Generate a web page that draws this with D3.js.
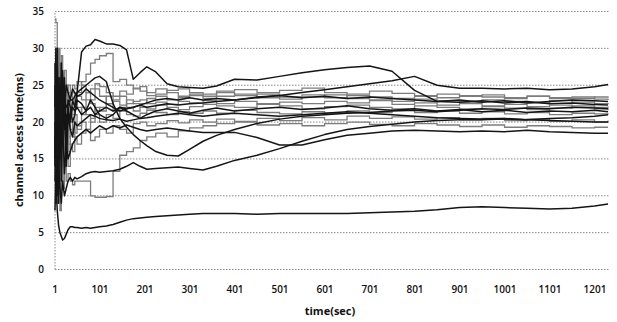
<!DOCTYPE html>
<html>
<head>
<meta charset="utf-8">
<script src="https://cdn.jsdelivr.net/npm/d3@7"></script>
<style>
  body { margin: 0; background: #fff; }
  svg { display: block; font-family: "Open Sans", "Liberation Sans", sans-serif; }
  .grid line { stroke: #8a8a8a; stroke-dasharray: 1.5,1.5; }
  .tick-label { font-size: 10px; font-weight: 600; fill: #111; }
  .title { font-size: 11px; font-weight: 700; fill: #111; }
  .line { fill: none; }
</style>
</head>
<body>
<svg id="chart" width="617" height="322"></svg>
<script>
// sample times (sec)
const times = [1,3,6,9,12,15,18,22,26,30,35,40,45,50,60,70,80,90,100,115,
  130,145,160,175,190,205,225,250,275,300,330,360,400,450,500,550,600,650,700,750,
  800,850,900,950,1000,1050,1100,1150,1200,1230];

const xTicks = [1,101,201,301,401,501,601,701,801,901,1001,1101,1201];
const yTicks = [0,5,10,15,20,25,30,35];

// black series
const black1 = [20,12,8,6,5,4.5,4.0,4.2,4.8,5.4,
  5.8,5.8,5.7,5.7,5.6,5.7,5.6,5.7,5.8,5.9,
  6.1,6.4,6.7,6.9,7.0,7.1,7.2,7.3,7.4,7.5,
  7.6,7.6,7.6,7.5,7.6,7.6,7.6,7.6,7.7,7.8,
  7.9,8.1,8.4,8.5,8.4,8.3,8.2,8.3,8.6,8.9];
const black2 = [12,18,24,20,22,23,21,23,22,22.5,
  23,23,23.5,24,29.5,30.3,30.5,31.2,31.0,30.6,
  30.6,30.4,29.8,25.8,26.7,27.5,26.8,25.2,24.8,24.7,
  24.6,24.9,25.8,25.7,26.2,26.7,27.1,27.4,27.6,26.9,
  24.3,22.8,22.7,22.9,22.6,22.8,22.5,22.6,22.4,22.3];
const black3 = [15,25,18,22,17,20,24,19,21,20,
  21,22,21.5,22,21,21.5,22,21,21.5,22,
  21.5,22,21.8,22,22.3,22,22.2,22.5,22.3,22.5,
  22.6,22.8,23.0,23.3,23.6,24.0,24.4,24.8,25.2,25.6,
  26.2,25.0,24.6,24.6,24.5,24.6,24.4,24.5,24.8,25.1];
const black4 = [8,15,10,14,11,9,12,10,11,12,
  12.5,12,12.5,12.3,12.6,13.0,13.2,13.3,13.2,13.3,
  13.4,13.6,14.0,14.5,14.0,13.6,13.7,13.8,13.9,13.7,
  13.5,14.0,14.8,15.5,16.4,17.4,18.3,19.0,19.4,19.7,
  20.0,20.2,20.3,20.3,20.4,20.3,20.5,20.6,20.8,21.0];
const black5 = [25,14,28,16,24,12,20,26,18,22,
  20,23,22,24,24.5,25.0,25.5,26.0,26.2,25.5,
  22.5,20.5,19.3,18.3,17.5,16.8,16.0,15.5,15.4,16.3,
  17.4,18.2,19.0,19.8,20.4,20.8,21.0,21.2,21.3,21.5,
  21.6,21.4,21.6,21.8,21.7,21.9,21.8,22.0,21.9,21.8];
const black6 = [18,10,22,14,26,16,20,13,17,15,
  16,17,17.5,18,18.5,19,18.5,19,19.5,19,
  19.5,19.2,19.6,19.3,19.0,18.8,19.0,19.2,19.0,18.8,
  18.6,18.6,18.6,17.9,16.9,16.9,17.6,18.2,18.5,18.8,
  18.9,18.8,18.7,18.8,18.7,18.9,18.7,18.6,18.5,18.5];
const black7 = [22,30,12,26,15,28,18,24,14,21,
  19,18,20,19.5,20,20.5,21,20.8,20.5,20.3,
  20.2,20.4,20.1,20.3,20.5,20.6,20.8,21.0,21.2,21.0,
  20.8,21.0,21.2,21.0,20.8,21.0,21.2,21.4,21.2,21.0,
  20.8,20.6,20.5,20.4,20.5,20.3,20.2,20.1,20.0,20.0];
const black8 = [28,9,30,12,25,20,26,22,25,24,
  23,24.5,24,23.5,23.8,24.5,24.0,23.5,23.0,22.5,
  22.0,21.5,21.8,22.0,22.3,22.6,23.0,23.2,23.0,23.3,
  23.0,23.2,23.0,23.4,23.6,23.3,23.5,23.2,23.4,23.2,
  23.0,22.8,23.0,22.7,22.9,22.6,22.8,23.0,22.9,22.8];
const black9 = [14,26,20,9,24,18,27,21,16,23,
  22,20,21,23,22.5,21.5,23,22,21,20.5,
  21,22,21.5,21,20.5,21,21.5,21.8,21.5,21.2,
  21.6,21.9,21.5,21.8,22.0,21.7,21.9,22.2,21.8,21.6,
  21.8,21.5,21.7,21.4,21.6,21.3,21.5,21.4,21.6,21.4];

// grey series
const grey1 = [30,22,16,25,10,22,18,20,23,19,
  21,22,23,24,25.5,26.5,28.0,28.5,29.0,29.3,
  25.5,25.8,25.0,24.5,24.8,24.0,24.5,24.0,23.5,23.8,
  23.5,24.0,23.6,23.8,23.4,23.7,23.3,23.6,23.4,23.2,
  23.5,23.3,23.6,23.4,23.2,23.5,23.3,23.2,23.4,23.5];
const grey2 = [34,33.5,14,20,8,16,11,14,12,13,
  12,11.5,12,12,12,12,10.0,9.8,9.8,9.9,
  13.3,15.5,16.0,16.5,17.5,18.0,18.5,18.0,18.8,19.2,
  19.5,19.8,20.0,19.6,19.8,19.5,19.8,20.0,19.7,19.5,
  19.8,19.6,19.4,19.6,19.3,19.5,19.4,19.2,19.3,19.3];
const grey3 = [24,16,27,11,21,26,14,22,17,24,
  20,18,21,19,22,21,20,22,21.5,22.5,
  21.5,22,23,22.5,22.0,21.8,22.3,22.0,21.7,22.1,
  22.4,22.2,22.0,22.5,22.2,21.8,22.1,22.3,22.0,21.8,
  22.2,22.0,21.8,22.1,21.9,21.7,21.9,22.0,21.8,21.6];
const grey4 = [26,13,21,30,18,24,12,27,20,25,
  24,25,24.5,25.5,25,24,24.5,25.2,24.8,24.0,
  23.5,24.2,23.8,24.6,24.2,23.6,23.8,24.3,24.5,24.0,
  23.8,24.2,24.4,24.0,24.3,24.6,24.0,23.8,24.2,23.9,
  23.6,23.8,23.5,23.7,23.3,23.5,23.2,23.4,23.1,23.0];
const grey5 = [10,24,15,19,28,13,23,16,20,14,
  17,16,18,17,18.5,19,17.5,18,19,18.5,
  19.5,19,18.5,19.8,20.0,19.5,19.8,20.2,19.9,20.3,
  20.0,20.4,20.1,20.5,20.2,20.6,20.3,20.8,20.5,20.7,
  20.4,20.6,20.3,20.5,20.2,20.4,20.1,20.3,20.0,20.2];
const grey6 = [20,27,17,24,13,22,25,15,23,18,
  22,21,23,22,21,23,22.5,21.5,22,23.5,
  22.8,22.3,22.5,22.8,23.0,22.5,22.7,22.4,22.8,22.6,
  22.9,22.5,22.8,22.4,22.7,22.5,22.8,22.6,22.9,22.4,
  22.6,22.3,22.5,22.2,22.4,22.1,22.3,22.2,22.0,22.1];
const grey7 = [16,21,9,18,23,11,19,14,24,17,
  19,20,18.5,19.5,20,19,20.5,21,20,21,
  20.5,21.5,21,20.8,21.2,21.6,21.3,21.0,21.4,21.2,
  21.5,21.2,21.6,21.3,21.1,21.4,21.2,21.5,21.3,21.6,
  21.3,21.5,21.2,21.4,21.1,21.3,21.0,21.2,21.1,21.2];
const grey8 = [27,19,23,15,20,29,17,21,25,16,
  23,24,22,23.5,23,24,23,24.5,23.5,22.5,
  23,23.5,22,21.5,22.5,23.2,23.5,23.0,23.3,23.6,
  23.2,23.5,23.8,23.3,23.1,23.4,23.7,23.2,23.0,22.8,
  23.1,22.9,22.7,23.0,22.8,22.6,22.9,22.7,22.5,22.6];

const greySeries = [grey1, grey2, grey3, grey4, grey5, grey6, grey7, grey8];
const blackSeries = [black1, black2, black3, black4, black5, black6, black7, black8, black9];

const svg = d3.select('#chart');

const x = d3.scaleLinear().domain([1, 1201]).range([55, 595]);
const y = d3.scaleLinear().domain([0, 35]).range([269.5, 11.5]);

const xEnd = x(1231);

// horizontal grid lines
svg.append('g')
  .attr('class', 'grid')
  .selectAll('line')
  .data(yTicks)
  .enter()
  .append('line')
  .attr('x1', x(1))
  .attr('x2', xEnd)
  .attr('y1', d => y(d))
  .attr('y2', d => y(d));

// value axis line (dotted)
svg.append('g')
  .attr('class', 'grid')
  .append('line')
  .attr('x1', x(1)).attr('x2', x(1))
  .attr('y1', y(0)).attr('y2', y(35));

// y tick labels
svg.append('g')
  .selectAll('text')
  .data(yTicks)
  .enter()
  .append('text')
  .attr('class', 'tick-label')
  .attr('x', 44)
  .attr('y', d => y(d) + 3.5)
  .attr('text-anchor', 'end')
  .text(d => d);

// x tick labels
svg.append('g')
  .selectAll('text')
  .data(xTicks)
  .enter()
  .append('text')
  .attr('class', 'tick-label')
  .attr('x', d => x(d))
  .attr('y', 293)
  .attr('text-anchor', 'middle')
  .text(d => d);

// lines
const greyLine = d3.line()
  .x((d, i) => x(times[i]))
  .y(d => y(d))
  .curve(d3.curveStepAfter);

const blackLine = d3.line()
  .x((d, i) => x(times[i]))
  .y(d => y(d));

svg.append('g')
  .selectAll('path')
  .data(greySeries)
  .enter()
  .append('path')
  .attr('class', 'line')
  .attr('d', greyLine)
  .attr('stroke', '#7d7d7d')
  .attr('stroke-width', 1.3);

svg.append('g')
  .selectAll('path')
  .data(blackSeries)
  .enter()
  .append('path')
  .attr('class', 'line')
  .attr('d', blackLine)
  .attr('stroke', '#151515')
  .attr('stroke-width', 1.5)
  .attr('stroke-linejoin', 'round');

// axis titles
svg.append('text')
  .attr('class', 'title')
  .attr('x', 330)
  .attr('y', 315)
  .attr('text-anchor', 'middle')
  .text('time(sec)');

svg.append('text')
  .attr('class', 'title')
  .attr('transform', 'translate(23,140) rotate(-90)')
  .attr('text-anchor', 'middle')
  .text('channel access time(ms)');
</script>
</body>
</html>
